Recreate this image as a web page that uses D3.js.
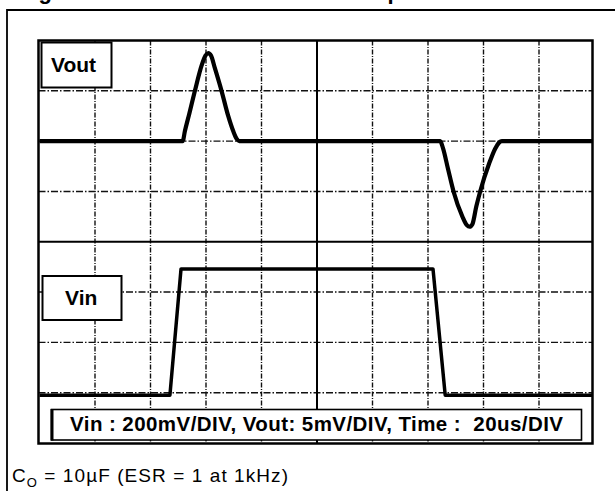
<!DOCTYPE html>
<html>
<head>
<meta charset="utf-8">
<script src="https://cdn.jsdelivr.net/npm/d3@7"></script>
<style>
  body { margin: 0; background: #fff; }
  svg { display: block; font-family: Arial, "Liberation Sans", sans-serif; }
</style>
</head>
<body>
<div id="scope"></div>
<script>
// Scope screen: 10 time divisions, 8 voltage divisions (centre = 0)
const timeGrid = [1, 2, 3, 4, 6, 7, 8, 9];
const voltGrid = [-3, -2, -1, 1, 2, 3];

// Vout trace (in divisions)
const voutT = [0, 2.58, 2.62, 2.70, 2.80, 2.92, 2.99, 3.04, 3.09, 3.16, 3.28, 3.40, 3.49, 3.55, 3.60,
               7.22, 7.27, 7.36, 7.46, 7.62, 7.70, 7.75, 7.80, 7.87, 7.94, 8.10, 8.21, 8.28, 8.33, 10];
const voutV = [2, 2, 2.2, 2.55, 3.0, 3.5, 3.7, 3.75, 3.7, 3.45, 3.0, 2.5, 2.2, 2.05, 2,
               2, 1.86, 1.45, 1.0, 0.5, 0.33, 0.30, 0.35, 0.7, 1.0, 1.55, 1.85, 1.97, 2, 2];

// Vin trace (in divisions)
const vinT = [0, 2.35, 2.55, 7.09, 7.31, 10];
const vinV = [-3.05, -3.05, -0.54, -0.54, -3.05, -3.05];

const W = 615, H = 491;

let svg = d3.select("#scope")
            .append("svg")
            .attr("width", W)
            .attr("height", H);

// screen geometry
const scr = { left: 38.5, top: 40.5, right: 592.5, bottom: 443.5 };

let x = d3.scaleLinear([0, 10], [39.5, 594.5]);
let y = d3.scaleLinear([-4, 4], [443, 40.5]);

// title (only its descenders are in view, as in the source)
let title = svg.append("text")
    .attr("y", -1.5)
    .style("font-size", "22px")
    .style("font-weight", "bold");
title.append("tspan").attr("x", 19).text("Figure 21.");
title.append("tspan").attr("x", 204).text("Line transient response");

// outer figure frame
svg.append("path")
    .attr("d", `M7,${H} V10 H${W}`)
    .attr("fill", "none")
    .attr("stroke", "#000")
    .attr("stroke-width", 1.8);

svg.append("defs").append("clipPath")
    .attr("id", "clip")
    .append("rect")
    .attr("x", scr.left).attr("y", scr.top)
    .attr("width", scr.right - scr.left).attr("height", scr.bottom - scr.top);

let g = svg.append("g").attr("clip-path", "url(#clip)");

// dashed graticule
g.append("g")
    .selectAll("line")
    .data(timeGrid)
    .join("line")
    .attr("x1", d => x(d)).attr("x2", d => x(d))
    .attr("y1", scr.top).attr("y2", scr.bottom)
    .attr("stroke", "#111")
    .attr("stroke-width", 1.4)
    .attr("stroke-dasharray", "5,1.5,1,1.5");

g.append("g")
    .selectAll("line")
    .data(voltGrid)
    .join("line")
    .attr("y1", d => y(d)).attr("y2", d => y(d))
    .attr("x1", scr.left).attr("x2", scr.right)
    .attr("stroke", "#111")
    .attr("stroke-width", 1.4)
    .attr("stroke-dasharray", "7,2,1.5,2");

// solid centre axes
g.append("line")
    .attr("x1", x(5)).attr("x2", x(5))
    .attr("y1", scr.top).attr("y2", scr.bottom)
    .attr("stroke", "#000").attr("stroke-width", 2);
g.append("line")
    .attr("y1", y(0)).attr("y2", y(0))
    .attr("x1", scr.left).attr("x2", scr.right)
    .attr("stroke", "#000").attr("stroke-width", 2);

// traces
const vout = voutT.map((t, i) => [t, voutV[i]]);
const vin = vinT.map((t, i) => [t, vinV[i]]);

g.append("path")
    .datum(vin)
    .attr("d", d3.line().x(d => x(d[0])).y(d => y(d[1])))
    .attr("fill", "none")
    .attr("stroke", "#000")
    .attr("stroke-width", 3.5)
    .attr("stroke-linejoin", "round");

g.append("path")
    .datum(vout)
    .attr("d", d3.line().x(d => x(d[0])).y(d => y(d[1])).curve(d3.curveMonotoneX))
    .attr("fill", "none")
    .attr("stroke", "#000")
    .attr("stroke-width", 4.2)
    .attr("stroke-linejoin", "round");

// screen border
svg.append("rect")
    .attr("x", scr.left).attr("y", scr.top)
    .attr("width", scr.right - scr.left).attr("height", scr.bottom - scr.top)
    .attr("fill", "none")
    .attr("stroke", "#000")
    .attr("stroke-width", 2.5);

// channel labels
function labelBox(x0, y0, w, h, txt, tx, ty) {
    svg.append("rect")
        .attr("x", x0).attr("y", y0).attr("width", w).attr("height", h)
        .attr("fill", "#fff")
        .attr("stroke", "#000")
        .attr("stroke-width", 2);
    svg.append("text")
        .attr("x", tx).attr("y", ty)
        .style("font-size", "21px")
        .style("font-weight", "bold")
        .text(txt);
}
labelBox(41.5, 42.5, 70, 45, "Vout", 51, 72);
labelBox(42.5, 276, 79, 44, "Vin", 65, 305);

// settings box at the bottom of the screen
svg.append("rect")
    .attr("x", 51.5).attr("y", 409.5).attr("width", 530).attr("height", 30.5)
    .attr("fill", "#fff")
    .attr("stroke", "#000")
    .attr("stroke-width", 1.6);
svg.append("line")
    .attr("x1", 52).attr("x2", 52).attr("y1", 409).attr("y2", 440.5)
    .attr("stroke", "#000").attr("stroke-width", 3);
svg.append("text")
    .attr("x", 70).attr("y", 431)
    .attr("textLength", 493)
    .attr("lengthAdjust", "spacing")
    .style("font-size", "20.5px")
    .style("font-weight", "bold")
    .style("white-space", "pre")
    .text("Vin : 200mV/DIV, Vout: 5mV/DIV, Time :  20us/DIV");

// caption
let cap = svg.append("text")
    .attr("x", 12).attr("y", 482)
    .attr("textLength", 276)
    .attr("lengthAdjust", "spacing")
    .style("font-size", "19px");
cap.append("tspan").text("C");
cap.append("tspan").attr("dy", 5).style("font-size", "13px").text("O");
cap.append("tspan").attr("dy", -5).text(" = 10µF (ESR = 1 at 1kHz)");
</script>
</body>
</html>
